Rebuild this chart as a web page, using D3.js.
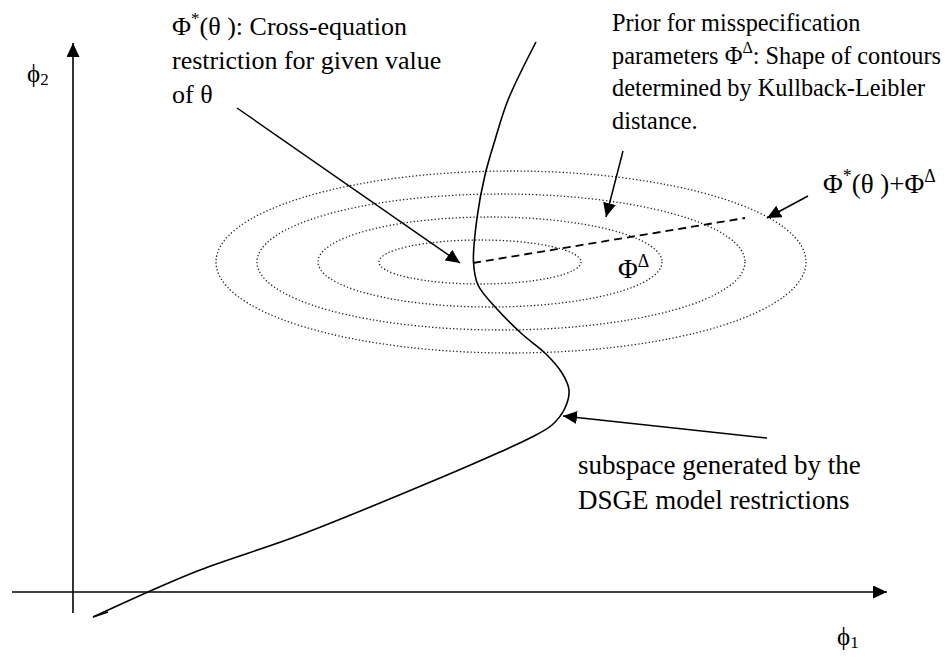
<!DOCTYPE html>
<html>
<head>
<meta charset="utf-8">
<script src="https://cdn.jsdelivr.net/npm/d3@7"></script>
<style>
  body { margin: 0; background: #fff; }
</style>
</head>
<body>
<div class="canvas"></div>
<script>
// data, in units measured from the axis origin
const curvePoints = [
  [463, 550], [435, 492], [422, 452], [412, 417], [404, 374],
  [400.5, 330], [405, 307], [424, 283], [449, 258], [473, 238],
  [489, 219], [496, 202], [492, 184], [479, 167], [457, 154], [427, 140],
  [367, 114], [227, 57], [127, 22], [75, 0], [20, -25]
];
const curveHook = [[20, -25], [35, -20]];

const contourCx = [407, 417, 428, 438];
const contourCy = 330;
const contourRx = [101, 172, 244, 295];
const contourRy = [22, 45, 68, 91];

const shiftLine = [[400, 329], [672, 374]];

const arrows = [
  [[164, 484], [387, 329]],
  [[550, 441], [533, 375]],
  [[735, 396], [694, 374]],
  [[694, 154], [490, 176]]
];

// text lines: [string, superscript?]
const leftNote = [
  [["Φ", 0], ["*", 1], ["(θ ): Cross-equation", 0]],
  [["restriction for given value", 0]],
  [["of θ", 0]]
];
const rightNote = [
  [["Prior for misspecification", 0]],
  [["parameters Φ", 0], ["Δ", 1], [": Shape of contours", 0]],
  [["determined by Kullback-Leibler", 0]],
  [["distance.", 0]]
];
const bottomNote = [
  [["subspace generated by the", 0]],
  [["DSGE model restrictions", 0]]
];
const sumLabel = [[["Φ", 0], ["*", 1], ["(θ )+Φ", 0], ["Δ", 1]]];
const deltaLabel = [[["Φ", 0], ["Δ", 1]]];
const axisNames = [["ϕ", "1"], ["ϕ", "2"]];

const dims = { width: 952, height: 660 };
const serif = '"Liberation Serif", "Times New Roman", "DejaVu Serif", serif';

const svg = d3.select('.canvas')
    .append('svg')
    .attr('width', dims.width)
    .attr('height', dims.height);

const x = d3.scaleLinear().domain([0, 814]).range([73, 887]);
const y = d3.scaleLinear().domain([0, 549]).range([592, 43]);

svg.append('defs').append('marker')
    .attr('id', 'head')
    .attr('markerUnits', 'userSpaceOnUse')
    .attr('markerWidth', 16).attr('markerHeight', 14)
    .attr('refX', 14).attr('refY', 6.5)
    .attr('orient', 'auto')
  .append('path')
    .attr('d', 'M0,0 L14,6.5 L0,13 Z')
    .attr('fill', '#000');

// axes
svg.append('line')
    .attr('x1', x(-61)).attr('y1', y(0))
    .attr('x2', x(814)).attr('y2', y(0))
    .attr('stroke', '#000').attr('stroke-width', 1.6)
    .attr('marker-end', 'url(#head)');
svg.append('line')
    .attr('x1', x(0)).attr('y1', y(-21))
    .attr('x2', x(0)).attr('y2', y(549))
    .attr('stroke', '#000').attr('stroke-width', 1.6)
    .attr('marker-end', 'url(#head)');

// contours
svg.selectAll('ellipse.contour')
    .data(contourRx)
    .enter().append('ellipse')
    .attr('class', 'contour')
    .attr('cx', (d, i) => x(contourCx[i]))
    .attr('cy', y(contourCy))
    .attr('rx', d => x(d) - x(0))
    .attr('ry', (d, i) => y(0) - y(contourRy[i]))
    .attr('fill', 'none')
    .attr('stroke', '#222')
    .attr('stroke-width', 1.3)
    .attr('stroke-dasharray', '1.3,2.2');

// restriction curve
const line = d3.line()
    .x(d => x(d[0]))
    .y(d => y(d[1]))
    .curve(d3.curveCatmullRom.alpha(0.5));

svg.append('path')
    .attr('d', line(curvePoints))
    .attr('fill', 'none')
    .attr('stroke', '#000')
    .attr('stroke-width', 1.6);

svg.append('path')
    .attr('d', d3.line().x(d => x(d[0])).y(d => y(d[1]))(curveHook))
    .attr('fill', 'none')
    .attr('stroke', '#000')
    .attr('stroke-width', 1.4);

// dashed shift
svg.append('line')
    .attr('x1', x(shiftLine[0][0])).attr('y1', y(shiftLine[0][1]))
    .attr('x2', x(shiftLine[1][0])).attr('y2', y(shiftLine[1][1]))
    .attr('stroke', '#000').attr('stroke-width', 1.8)
    .attr('stroke-dasharray', '8,5');

// pointers
svg.selectAll('line.pointer')
    .data(arrows)
    .enter().append('line')
    .attr('class', 'pointer')
    .attr('x1', d => x(d[0][0])).attr('y1', d => y(d[0][1]))
    .attr('x2', d => x(d[1][0])).attr('y2', d => y(d[1][1]))
    .attr('stroke', '#000').attr('stroke-width', 1.5)
    .attr('marker-end', 'url(#head)');

// text blocks
const block = (lines, px, py, gap, size) => {
    lines.forEach((segs, i) => {
        const t = svg.append('text')
            .attr('x', px).attr('y', py + i * gap)
            .attr('font-family', serif)
            .attr('font-size', size);
        let up = false;
        segs.forEach(s => {
            const span = t.append('tspan').text(s[0]);
            if (s[1] && !up) { span.attr('dy', -size * 0.42).attr('font-size', size * 0.66); up = true; }
            else if (s[1]) { span.attr('font-size', size * 0.66); }
            else if (up) { span.attr('dy', size * 0.42); up = false; }
        });
    });
};

block(leftNote, 172, 35, 34, 26);
block(rightNote, 612, 31, 32.5, 24.3);
block(bottomNote, 578, 474, 35, 27);
block(sumLabel, 823, 193, 0, 27);
block(deltaLabel, 618, 278, 0, 27);

// axis labels
const axisLabel = (name, px, py) => {
    const t = svg.append('text').attr('x', px).attr('y', py)
        .attr('font-family', serif).attr('font-size', 25);
    t.append('tspan').text(name[0]);
    t.append('tspan').text(name[1]).attr('font-size', 17).attr('dy', 3);
};
axisLabel(axisNames[1], 27, 82);
axisLabel(axisNames[0], 837, 645);
</script>
</body>
</html>
